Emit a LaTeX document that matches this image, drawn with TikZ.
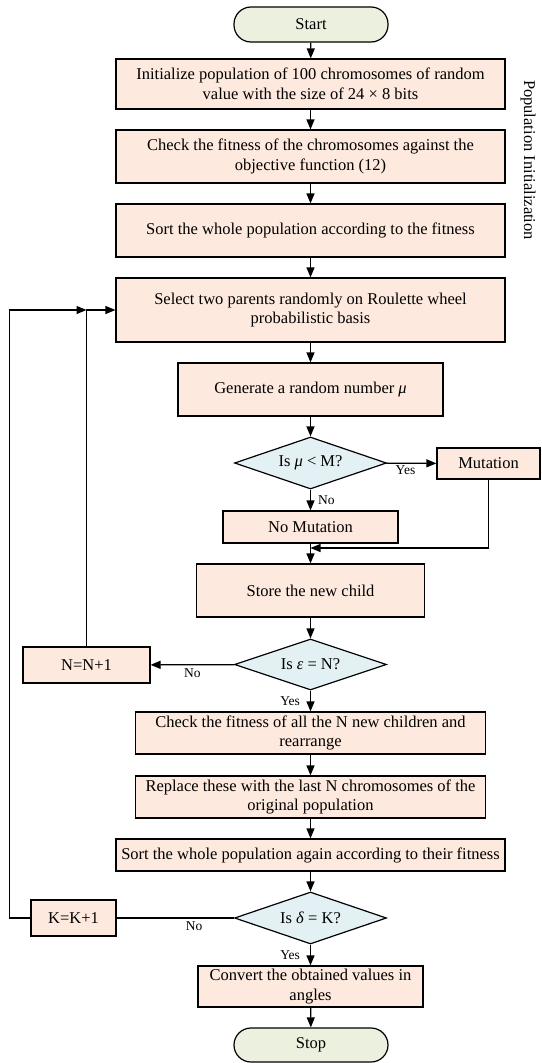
\documentclass[tikz,border=0pt]{standalone}
\usepackage{fontspec}
\setmainfont{Liberation Serif}
\usetikzlibrary{arrows.meta,shapes.geometric}

\definecolor{boxfill}{HTML}{FDE9DD}
\definecolor{decfill}{HTML}{E3F0F4}
\definecolor{termfill}{HTML}{EBF1DE}

\begin{document}
\begin{tikzpicture}[x=1pt, y=-1pt, >={Triangle[length=10pt,width=8pt]}, line width=1.2pt,
    box/.style={draw, fill=boxfill, align=center, inner sep=1pt, font=\fontsize{16.5}{19.5}\selectfont},
    term/.style={box, fill=termfill, rounded corners=17pt},
    decision/.style={draw, fill=decfill, diamond, aspect=2.9, inner sep=0pt, font=\fontsize{16.5}{19.5}\selectfont},
    lbl/.style={font=\fontsize{13.5}{15}\selectfont, inner sep=2pt}]
    \useasboundingbox (0,0) rectangle (541,1063);

    % initialisation
    \node[term, minimum width=154pt, minimum height=35pt] (start) at (311,24.5) {Start};
    \node[box, minimum width=389pt, minimum height=50pt] (init) at (310.5,84) {Initialize population of 100 chromosomes of random\\value with the size of 24 × 8 bits};
    \node[box, minimum width=389pt, minimum height=53pt] (fit) at (310.5,156.5) {Check the fitness of the chromosomes against the\\objective function (12)};
    \node[box, minimum width=389pt, minimum height=53pt] (sort) at (310.5,230.5) {Sort the whole population according to the fitness};
    \node[rotate=-90, font=\fontsize{16.5}{19.5}\selectfont] (popinit) at (528,160) {Population Initialization};

    % selection and mutation
    \node[box, minimum width=389pt, minimum height=64pt] (select) at (310.5,310) {Select two parents randomly on Roulette wheel\\probabilistic basis};
    \node[box, minimum width=265pt, minimum height=53pt] (gen) at (310.5,389.5) {Generate a random number \textit{μ}};
    \node[decision, minimum width=152pt, minimum height=52pt] (isM) at (310.5,463) {Is \textit{μ} < M?};
    \node[box, minimum width=103pt, minimum height=31pt] (mut) at (488.5,463.5) {Mutation};
    \node[box, minimum width=175pt, minimum height=32pt] (nomut) at (310.5,527) {No Mutation};
    \coordinate (merge) at (310.5,548);
    \node[box, minimum width=228pt, minimum height=53pt] (store) at (310.5,590.5) {Store the new child};

    % children loop
    \node[decision, minimum width=152pt, minimum height=51pt] (isN) at (310.5,664.5) {Is \textit{ε} = N?};
    \node[box, minimum width=127pt, minimum height=36pt] (nplus) at (86.5,665) {N=N+1};
    \node[box, minimum width=350pt, minimum height=42pt] (check) at (310.5,733) {Check the fitness of all the N new children and\\rearrange};
    \node[box, minimum width=350pt, minimum height=42pt] (replace) at (310.5,797) {Replace these with the last N chromosomes of the\\original population};
    \node[box, minimum width=389pt, minimum height=32pt] (sortagain) at (310.5,855) {Sort the whole population again according to their fitness};

    % generation loop
    \node[decision, minimum width=152pt, minimum height=52pt] (isK) at (310.5,918) {Is \textit{δ} = K?};
    \node[box, minimum width=85pt, minimum height=36pt] (kplus) at (73.5,918) {K=K+1};
    \node[box, minimum width=225pt, minimum height=41pt] (convert) at (310.5,986.5) {Convert the obtained values in\\angles};
    \node[term, minimum width=154pt, minimum height=34pt] (stop) at (311,1045) {Stop};
    \coordinate (outer) at (9.5,310);

    % main flow
    \draw[->] (start) -- (init);
    \draw[->] (init) -- (fit);
    \draw[->] (fit) -- (sort);
    \draw[->] (sort) -- (select);
    \draw[->] (select) -- (gen);
    \draw[->] (gen) -- (isM);
    \draw[->] (isM) -- (mut) node[lbl, pos=0.38, below] (yes1) {Yes};
    \draw[->] (isM) -- (nomut) node[lbl, midway, right, xshift=5pt] (no1) {No};
    \draw[->] (mut.south) |- (merge);
    \draw[->] (nomut) -- (store);
    \draw[->] (store) -- (isN);
    \draw[->] (isN) -- (nplus) node[lbl, midway, below, yshift=-1pt] (no2) {No};
    \draw[->] (isN) -- (check) node[lbl, midway, left, xshift=-8pt] (yes2) {Yes};
    \draw[->] (check) -- (replace);
    \draw[->] (replace) -- (sortagain);
    \draw[->] (sortagain) -- (isK);
    \draw (isK) -- (kplus) node[lbl, pos=0.34, below, yshift=-1pt] (no3) {No};
    \draw[->] (isK) -- (convert) node[lbl, midway, left, xshift=-8pt] (yes3) {Yes};
    \draw[->] (convert) -- (stop);

    % feedback lines
    \draw[->] (nplus.north) |- (select.west);
    \draw[->] (kplus.west) -| (outer) -- (nplus.north |- outer);
\end{tikzpicture}
\end{document}
